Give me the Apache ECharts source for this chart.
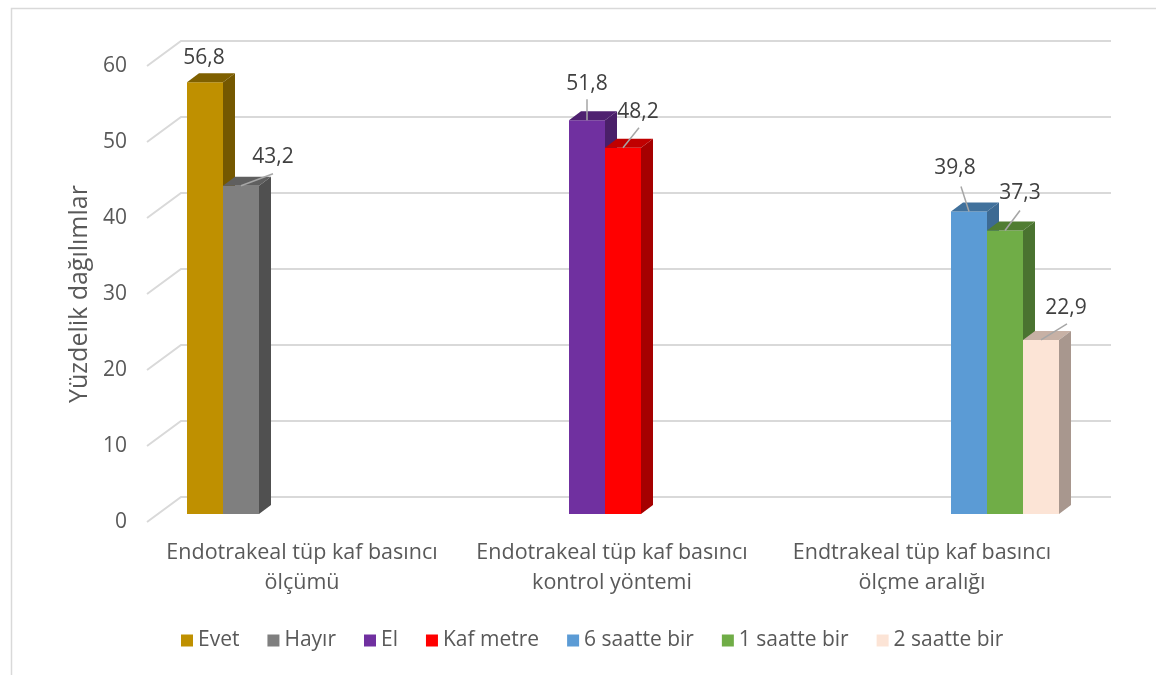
<!DOCTYPE html>
<html>
<head>
<meta charset="utf-8">
<script src="https://cdn.jsdelivr.net/npm/echarts@6/dist/echarts.min.js"></script>
<style>
  html, body { margin: 0; padding: 0; background: #fff; }
  #chart { width: 1156px; height: 675px; }
</style>
</head>
<body>
<div id="chart"></div>
<script>
// data
const categories = [
  "Endotrakeal tüp kaf basıncı\nölçümü",
  "Endotrakeal tüp kaf basıncı\nkontrol yöntemi",
  "Endtrakeal tüp kaf basıncı\nölçme aralığı"
];
const seriesNames = ["Evet", "Hayır", "El", "Kaf metre", "6 saatte bir", "1 saatte bir", "2 saatte bir"];
const seriesCategory = [0, 0, 1, 1, 2, 2, 2];
const seriesValues = [56.8, 43.2, 51.8, 48.2, 39.8, 37.3, 22.9];
const yTicks = [0, 10, 20, 30, 40, 50, 60];

// styles
const frontColors = ["#bf9000", "#7f7f7f", "#7030a0", "#ff0000", "#5b9bd5", "#70ad47", "#fce4d6"];
const topColors = ["#7f6000", "#5f5f5f", "#4f2170", "#c00000", "#41719c", "#507d32", "#c7b1a5"];
const sideColors = ["#755800", "#505050", "#4a1f69", "#a50000", "#3d6a93", "#4a7330", "#a8978e"];
const labelShift = [[-1, -24], [32, -29], [0, -36], [15, -36], [-14, -44], [15, -38], [25, -32]];
const leaderEnd = [null, [32, -12], [0, -21], [16, -20], [-8, -25], [15, -20], [26, -16]];

const FONT = "Open Sans";
const TEXT = "#595959";
const DX = 34, DY = 25;          // floor depth
const PX = 11, PY = 8;           // bar front plane offset
const BX = 12, BY = 9;           // bar depth
const BAR_FRAC = 36 / 310;

const chart = echarts.init(document.getElementById("chart"));

function renderGrid(params, api) {
  const cs = params.coordSys;
  const y = api.coord([0, api.value(1)])[1];
  return {
    type: "polyline",
    silent: true,
    shape: { points: [[cs.x, y], [cs.x + DX, y - DY], [cs.x + cs.width + DX, y - DY]] },
    style: { stroke: "#d9d9d9", lineWidth: 2, fill: null }
  };
}

function makeBarRenderer(i) {
  return function (params, api) {
    const band = api.size([1, 0])[0];
    const w = band * BAR_FRAC;
    const top = api.coord([api.value(0), api.value(1)]);
    const base = api.coord([api.value(0), 0]);
    const x0 = top[0] - 3.5 * w + i * w + PX;
    const x1 = x0 + w;
    const yt = top[1] - PY;
    const yb = base[1] - PY;
    const cx = (x0 + x1) / 2;
    const children = [
      { type: "rect", shape: { x: x0, y: yt, width: w, height: yb - yt }, style: { fill: frontColors[i] } },
      { type: "polygon", shape: { points: [[x0, yt], [x0 + BX, yt - BY], [x1 + BX, yt - BY], [x1, yt]] }, style: { fill: topColors[i] } },
      { type: "polygon", shape: { points: [[x1, yt], [x1 + BX, yt - BY], [x1 + BX, yb - BY], [x1, yb]] }, style: { fill: sideColors[i] } }
    ];
    if (leaderEnd[i]) {
      children.push({
        type: "line", z2: 10,
        shape: { x1: cx, y1: yt, x2: cx + leaderEnd[i][0], y2: yt + leaderEnd[i][1] },
        style: { stroke: "#a6a6a6", lineWidth: 1.5 }
      });
    }
    children.push({
      type: "text", z2: 11,
      x: cx + labelShift[i][0], y: yt + labelShift[i][1],
      style: {
        text: String(api.value(1)).replace(".", ","),
        fill: "#404040", font: "21px '" + FONT + "'",
        align: "center", verticalAlign: "middle"
      }
    });
    return { type: "group", children: children };
  };
}

const series = [{
  type: "custom",
  name: "grid",
  renderItem: renderGrid,
  data: yTicks.map(v => [0, v]),
  encode: { x: 0, y: 1 },
  silent: true,
  z: 1
}];
seriesNames.forEach((name, i) => {
  series.push({
    type: "custom",
    name: name,
    renderItem: makeBarRenderer(i),
    itemStyle: { color: frontColors[i] },
    data: [[seriesCategory[i], seriesValues[i]]],
    encode: { x: 0, y: 1 },
    z: 2 + i
  });
});

chart.setOption({
  animation: false,
  textStyle: { fontFamily: FONT },
  graphic: [{
    type: "rect", left: 9, top: 6, silent: true,
    shape: { width: 1170, height: 690 },
    style: { stroke: "#d9d9d9", lineWidth: 1.5, fill: null }
  }],
  grid: { left: 147, top: 66, width: 930, height: 456 },
  legend: {
    data: seriesNames,
    top: 625,
    left: 176,
    icon: "rect",
    itemWidth: 12,
    itemHeight: 12,
    itemGap: 28,
    textStyle: { fontSize: 21, color: TEXT, fontFamily: FONT }
  },
  xAxis: {
    type: "category",
    data: categories,
    axisLine: { show: false },
    axisTick: { show: false },
    axisLabel: { fontSize: 21.5, color: TEXT, lineHeight: 30, margin: 16, fontFamily: FONT, interval: 0 }
  },
  yAxis: {
    type: "value",
    min: 0, max: 60, interval: 10,
    name: "Yüzdelik dağılımlar",
    nameLocation: "middle",
    nameGap: 48,
    nameTextStyle: { fontSize: 25, color: TEXT, fontFamily: FONT },
    axisLine: { show: false },
    axisTick: { show: false },
    splitLine: { show: false },
    axisLabel: { fontSize: 21, color: TEXT, margin: 20, fontFamily: FONT }
  },
  series: series
});
</script>
</body>
</html>
